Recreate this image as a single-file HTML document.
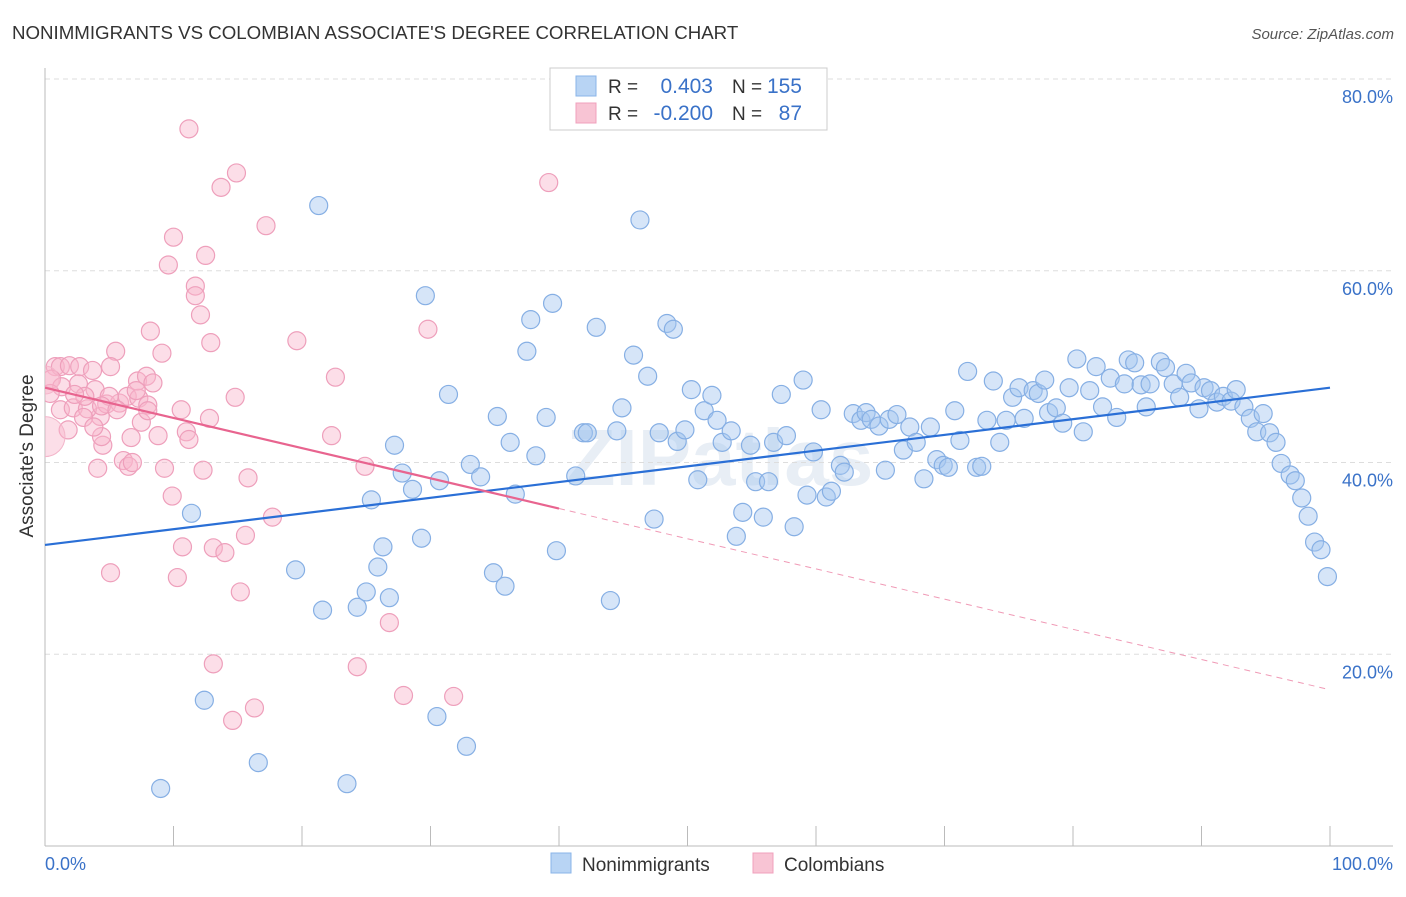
<!DOCTYPE html>
<html><head><meta charset="utf-8"><style>
body{margin:0;background:#fff;font-family:"Liberation Sans",sans-serif;}
svg text{font-family:"Liberation Sans",sans-serif;}
</style></head><body>
<svg id="chart" width="1406" height="892">
<defs><clipPath id="plotclip"><rect x="45" y="0" width="1361" height="846"/></clipPath></defs>
<text x="12" y="39" font-size="18.7" fill="#333">NONIMMIGRANTS VS COLOMBIAN ASSOCIATE'S DEGREE CORRELATION CHART</text>
<text x="1394" y="39" font-size="15" fill="#555" text-anchor="end" font-style="italic">Source: ZipAtlas.com</text>
<text x="720" y="485" font-size="80" fill="#e8eef5" text-anchor="middle" font-family="Liberation Serif" font-weight="bold">ZIPatlas</text>
<g id="grid"></g><g id="pts" clip-path="url(#plotclip)"></g><g id="lines"></g>
<text transform="translate(33,456) rotate(-90)" font-size="19" fill="#333" text-anchor="middle">Associate's Degree</text>
<text x="45" y="870" font-size="18" fill="#3a72c8">0.0%</text>
<text x="1393" y="870" font-size="18" fill="#3a72c8" text-anchor="end">100.0%</text>
<g>
<rect x="550" y="68" width="277" height="62" fill="#fff" stroke="#ccc"/>
<rect x="576" y="76" width="20" height="20" fill="#b8d4f4" stroke="#8ab4e8"/>
<rect x="576" y="103" width="20" height="20" fill="#f8c4d4" stroke="#f0a0bc"/>
<text x="608" y="93" font-size="19" fill="#333">R =</text><text x="713" y="93" font-size="21" fill="#3a72c8" text-anchor="end">0.403</text>
<text x="732" y="93" font-size="19" fill="#333">N =</text><text x="802" y="93" font-size="21" fill="#3a72c8" text-anchor="end">155</text>
<text x="608" y="120" font-size="19" fill="#333">R =</text><text x="713" y="120" font-size="21" fill="#3a72c8" text-anchor="end">-0.200</text>
<text x="732" y="120" font-size="19" fill="#333">N =</text><text x="802" y="120" font-size="21" fill="#3a72c8" text-anchor="end">87</text>
</g>
<g>
<rect x="551" y="853" width="20" height="20" fill="#b8d4f4" stroke="#8ab4e8"/>
<text x="582" y="871" font-size="19" fill="#333">Nonimmigrants</text>
<rect x="753" y="853" width="20" height="20" fill="#f8c4d4" stroke="#f0a0bc"/>
<text x="784" y="871" font-size="19" fill="#333">Colombians</text>
</g>
</svg>
<script>
const yTicks=[20,40,60,80];
const yTickLabels=["20.0%","40.0%","60.0%","80.0%"];
const xTicks=[0,10,20,30,40,50,60,70,80,90,100];
const blueX=[21.3,46.3,29.6,39.5,37.8,42.9,48.4,48.9,37.5,45.8,46.9,31.4,35.2,39.0,36.2,38.2,27.2,27.8,28.6,30.7,33.1,33.9,36.6,41.3,41.9,42.2,44.5,44.9,47.8,49.2,49.8,50.3,50.8,51.3,51.9,52.3,52.7,53.4,54.9,55.3,56.3,56.7,57.7,57.3,59.0,59.8,60.4,59.3,60.8,61.2,61.9,62.2,62.9,63.5,63.9,64.3,64.9,65.4,65.7,66.3,66.8,67.3,67.8,68.4,68.9,69.4,69.9,70.3,70.8,71.2,71.8,72.5,72.9,73.3,73.8,74.3,74.8,75.3,75.8,76.2,76.9,77.3,77.8,78.1,78.7,79.2,79.7,80.3,80.8,81.3,81.8,82.3,82.9,83.4,84.0,84.3,84.8,85.3,85.7,86.0,86.8,87.2,87.8,88.3,88.8,89.2,89.8,90.2,90.7,91.2,91.7,92.3,92.7,93.3,93.8,94.3,94.8,95.3,95.8,96.2,96.9,97.3,97.8,98.3,98.8,99.3,99.8,11.4,19.5,21.6,24.3,25.0,25.9,26.3,26.8,29.3,25.4,34.9,35.8,39.8,44.0,47.4,53.8,54.3,55.9,58.3,12.4,16.6,9.0,23.5,30.5,32.8];
const blueY=[66.8,65.3,57.4,56.6,54.9,54.1,54.5,53.9,51.6,51.2,49.0,47.1,44.8,44.7,42.1,40.7,41.8,38.9,37.2,38.1,39.8,38.5,36.7,38.6,43.1,43.1,43.3,45.7,43.1,42.2,43.4,47.6,38.2,45.4,47.0,44.4,42.1,43.3,41.8,38.0,38.0,42.1,42.8,47.1,48.6,41.1,45.5,36.6,36.4,37.0,39.7,39.0,45.1,44.4,45.2,44.5,43.8,39.2,44.5,45.0,41.3,43.7,42.1,38.3,43.7,40.3,39.7,39.5,45.4,42.3,49.5,39.5,39.6,44.4,48.5,42.1,44.4,46.8,47.8,44.6,47.5,47.2,48.6,45.2,45.7,44.1,47.8,50.8,43.2,47.5,50.0,45.8,48.8,44.7,48.2,50.7,50.4,48.1,45.8,48.2,50.5,49.9,48.2,46.8,49.3,48.3,45.6,47.8,47.5,46.3,46.9,46.4,47.6,45.8,44.6,43.2,45.1,43.1,42.1,39.9,38.7,38.1,36.3,34.4,31.7,30.9,28.1,34.7,28.8,24.6,24.9,26.5,29.1,31.2,25.9,32.1,36.1,28.5,27.1,30.8,25.6,34.1,32.3,34.8,34.3,33.3,15.2,8.7,6.0,6.5,13.5,10.4];
const pinkX=[11.2,14.9,13.7,39.2,17.2,10.0,12.5,9.6,11.7,11.7,12.1,8.2,12.9,5.5,9.1,19.6,29.8,22.6,14.8,10.6,12.8,11.0,11.2,22.3,6.7,4.3,4.5,6.1,6.5,9.3,12.3,4.1,15.8,24.9,9.9,17.7,10.7,13.1,14.0,15.6,5.1,10.3,15.2,26.8,13.1,24.3,14.6,16.3,27.9,31.8,0.8,1.2,1.9,2.7,3.7,0.5,1.3,2.6,3.9,1.2,2.2,3.3,4.8,5.8,3.1,5.0,6.4,7.3,8.0,7.2,7.9,8.4,7.1,5.1,1.8,3.0,4.4,7.5,8.8,0.4,6.8,8.0,2.3,4.4,5.6,3.8];
const pinkY=[74.8,70.2,68.7,69.2,64.7,63.5,61.6,60.6,58.4,57.4,55.4,53.7,52.5,51.6,51.4,52.7,53.9,48.9,46.8,45.5,44.6,43.2,42.4,42.8,42.6,44.8,41.8,40.2,39.6,39.4,39.2,39.4,38.4,39.6,36.5,34.3,31.2,31.1,30.6,32.4,28.5,28.0,26.5,23.3,19.0,18.7,13.1,14.4,15.7,15.6,50.0,50.0,50.1,50.0,49.6,48.7,47.9,48.2,47.6,45.5,45.7,45.6,46.1,46.2,46.9,46.9,46.9,46.7,46.0,48.5,49.0,48.3,47.5,50.0,43.4,44.7,42.7,44.2,42.8,47.2,40.0,45.4,47.1,45.9,45.5,43.7];
const bigPinkX=[0,0];
const bigPinkY=[42.7,48.6];
const blueTrend=[31.4,47.8];
const pinkTrend=[47.8,16.3];
const pinkSolidEnd=40;
const NS="http://www.w3.org/2000/svg";
const sx=v=>45+v*12.85;
const sy=v=>846-v*9.5875;
function mk(tag,attrs,parent){const e=document.createElementNS(NS,tag);for(const k in attrs)e.setAttribute(k,attrs[k]);parent.appendChild(e);return e;}
const grid=document.getElementById('grid'),pts=document.getElementById('pts'),lines=document.getElementById('lines'),svg=document.getElementById('chart');
yTicks.forEach((t,i)=>{
  const l=mk('line',{x1:45,x2:1393,y1:sy(t),y2:sy(t),stroke:'#ddd','stroke-dasharray':'5,4'},grid);
  
  
  const tx=mk('text',{x:1393,y:sy(t)+24,'font-size':18,fill:'#3a72c8','text-anchor':'end'},svg);
  tx.textContent=yTickLabels[i];
  
  
});
const ax=mk('line',{x1:45,x2:45,y1:68,y2:846,stroke:'#bbb'},grid);


const bx=mk('line',{x1:45,x2:1393,y1:846,y2:846,stroke:'#bbb'},grid);


xTicks.forEach(t=>{
  const l=mk('line',{x1:sx(t),x2:sx(t),y1:826,y2:846,stroke:'#bbb'},grid);
  
  
});
blueX.forEach((x,i)=>{
  const c=mk('circle',{cx:sx(x),cy:sy(blueY[i]),r:9,fill:'rgba(165,198,240,0.45)',stroke:'#86afe4','stroke-width':1.2},pts);
  
  
});
pinkX.forEach((x,i)=>{
  const c=mk('circle',{cx:sx(x),cy:sy(pinkY[i]),r:9,fill:'rgba(248,182,204,0.45)',stroke:'#ee9fbb','stroke-width':1.2},pts);
  
  
});
bigPinkX.forEach((x,i)=>{
  const c=mk('circle',{cx:sx(x),cy:sy(bigPinkY[i]),r:i==0?20:14,fill:'rgba(248,182,204,0.45)',stroke:'#f3b5ca','stroke-width':1},pts);
  
  
});
const bl=mk('line',{x1:sx(0),y1:sy(blueTrend[0]),x2:sx(100),y2:sy(blueTrend[1]),stroke:'#2a6fd6','stroke-width':2.2},lines);


const pv=x=>pinkTrend[0]+(pinkTrend[1]-pinkTrend[0])*x/100;
const pl=mk('line',{x1:sx(0),y1:sy(pv(0)),x2:sx(pinkSolidEnd),y2:sy(pv(pinkSolidEnd)),stroke:'#e8648f','stroke-width':2.2},lines);


const pd=mk('line',{x1:sx(pinkSolidEnd),y1:sy(pv(pinkSolidEnd)),x2:sx(100),y2:sy(pv(100)),stroke:'#f09ab6','stroke-width':1,'stroke-dasharray':'6,5'},lines);


</script>
</body></html>
